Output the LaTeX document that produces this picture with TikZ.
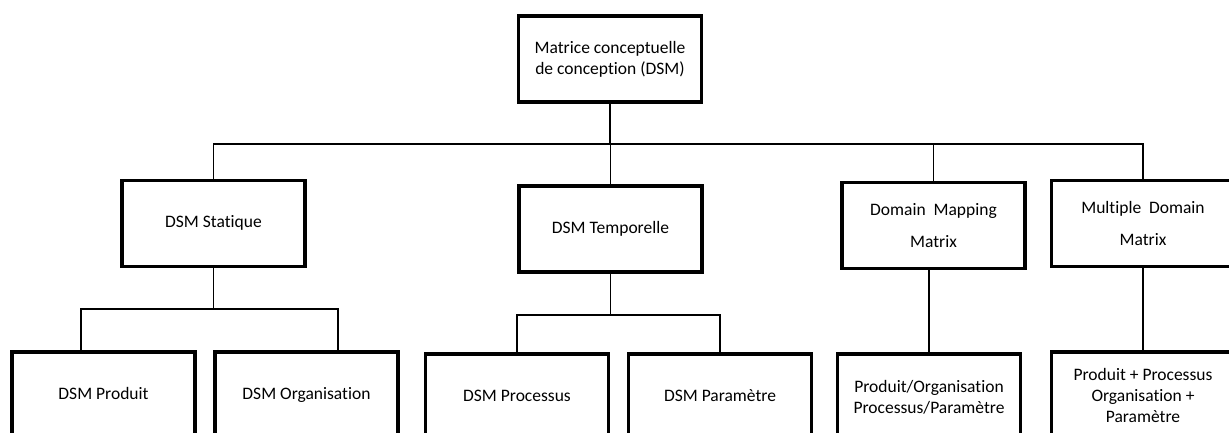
\documentclass[tikz,border=0pt]{standalone}
\usepackage{fontspec}
\setmainfont{Carlito}[Ligatures=NoCommon]
\begin{document}
\begin{tikzpicture}[
  x=1pt, y=-1pt,
  boite/.style={draw, line width=3.4pt, align=center,
    minimum width=183pt, minimum height=86pt, inner sep=2pt,
    font=\fontsize{17.5}{21}\selectfont},
  simple/.style={boite, text height=12pt, text depth=4pt},
  lien/.style={line width=1.8pt}
]

  % Cadre
  \useasboundingbox (0,0) rectangle (1229,432);
  \clip (0,0) rectangle (1229,432);

  % Racine
  \node[boite] (dsm) at (610,59) {Matrice conceptuelle\\de conception (DSM)};

  % Niveau 2
  \node[simple] (stat) at (213.5,223.5) {DSM Statique};
  \node[simple] (temp) at (610.5,229) {DSM Temporelle};
  \node[boite] (dmm)  at (933.5,225.5) {Domain\ \ Mapping\\[11pt]Matrix};
  \node[boite] (mdm)  at (1143,223.5) {Multiple\ \ Domain\\[11pt]Matrix};

  % Niveau 3
  \node[simple] (prod) at (103.5,395) {DSM Produit};
  \node[simple] (orga) at (306.5,395) {DSM Organisation};
  \node[simple] (proc) at (517,397) {DSM Processus};
  \node[simple] (para) at (720,397) {DSM Paramètre};
  \node[boite] (po)   at (929,397) {Produit/Organisation\\Processus/Paramètre};
  \node[boite] (ppo)  at (1143,395) {Produit + Processus\\Organisation +\\Paramètre};

  % Bus principal
  \draw[lien] (dsm.south) -- ++(0,40) coordinate (bus);
  \draw[lien] (stat.north) |- (mdm.north |- bus) -- (mdm.north);
  \draw[lien] (temp.north) -- (temp.north |- bus);
  \draw[lien] (dmm.north) -- (dmm.north |- bus);

  % Branche statique
  \draw[lien] (stat.south) -- ++(0,41) coordinate (bs);
  \coordinate (bsg) at ([xshift=71pt]prod.north west);
  \coordinate (bsd) at ([xshift=125pt]orga.north west);
  \draw[lien] (bsg) |- (bs) -| (bsd);

  % Branche temporelle
  \draw[lien] (temp.south) -- ++(0,41) coordinate (bt);
  \draw[lien] (proc.north) |- (bt) -| (para.north);

  % Liens directs
  \draw[lien] (dmm.south -| po.north) -- (po.north);
  \draw[lien] (mdm.south) -- (ppo.north);

\end{tikzpicture}
\end{document}
